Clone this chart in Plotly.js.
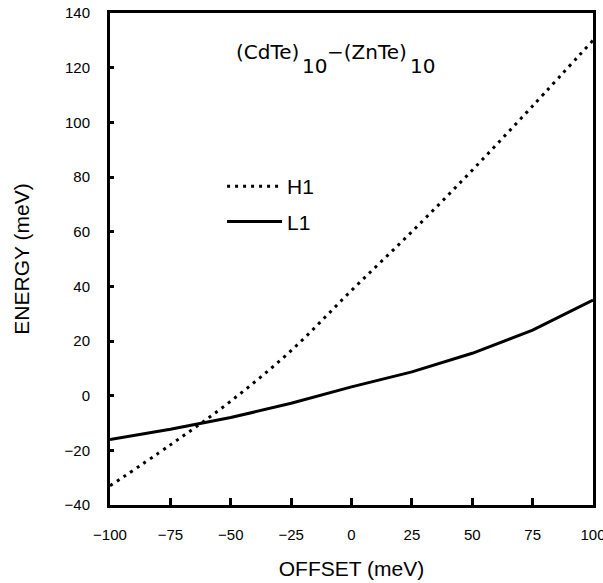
<!DOCTYPE html>
<html>
<head>
<meta charset="utf-8">
<script src="https://cdn.plot.ly/plotly-3.0.1.min.js"></script>
<style>html,body{margin:0;padding:0;background:#fff;}#chart{width:603px;height:583px;}</style>
</head>
<body>
<div id="chart"></div>
<script>
// Offset values (meV)
const offsets = [-100, -75, -50, -25, 0, 25, 50, 75, 100];
// H1 energy (meV), dotted curve
const h1Energy = [-33, -18, -2, 16.5, 38.5, 60, 82.5, 106, 130];
// L1 energy (meV), solid curve
const l1Energy = [-16, -12.3, -8, -2.8, 3.2, 8.7, 15.5, 24, 35];
const xTicks = [-100, -75, -50, -25, 0, 25, 50, 75, 100];
const yTicks = [-40, -20, 0, 20, 40, 60, 80, 100, 120, 140];
const seriesNames = ['H1', 'L1'];
const titleParts = ['(CdTe)', '10', '\u2212(ZnTe)', '10'];

const traces = [
  {x: offsets, y: h1Energy, name: seriesNames[0], mode: 'lines', line: {color: '#000', width: 3, dash: '3px,5px', shape: 'spline'}, legendgroup: 'a'},
  {x: offsets, y: l1Energy, name: seriesNames[1], mode: 'lines', line: {color: '#000', width: 3}, legendgroup: 'b'}
];

const fontFam = '"Liberation Sans", Arial, Helvetica, sans-serif';
const minus = v => v < 0 ? '\u2212' + Math.abs(v) : String(v);

// title pieces: [paper x, paper y]
const titlePos = [[0.256, 0.921], [0.394, 0.893], [0.445, 0.921], [0.617, 0.893]];
const annotations = titleParts.map((t, i) => ({
  x: titlePos[i][0], y: titlePos[i][1], xref: 'paper', yref: 'paper',
  xanchor: 'left', yanchor: 'middle', text: t, showarrow: false,
  font: {size: 20, family: '"DejaVu Sans", sans-serif'}
}));

const layout = {
  width: 603, height: 583,
  margin: {l: 110, r: 10, t: 13, b: 78},
  paper_bgcolor: '#fff', plot_bgcolor: '#fff',
  font: {family: fontFam, color: '#000', size: 15},
  showlegend: true,
  legend: {x: 0.232, y: 0.689, xanchor: 'left', yanchor: 'top', bgcolor: 'rgba(0,0,0,0)',
           font: {size: 21}, traceorder: 'grouped', tracegroupgap: 5, itemwidth: 55},
  xaxis: {
    range: [-100, 100], tickvals: xTicks, ticktext: xTicks.map(minus),
    showline: true, linewidth: 3, linecolor: '#000', mirror: true,
    ticks: 'inside', ticklen: 7, tickwidth: 3, tickcolor: '#000',
    showgrid: false, zeroline: false, ticklabelstandoff: 14, ticklabeloverflow: 'allow',
    title: {text: 'OFFSET (meV)', font: {size: 21}, standoff: 20}
  },
  yaxis: {
    range: [-40, 140], tickvals: yTicks, ticktext: yTicks.map(minus),
    showline: true, linewidth: 3, linecolor: '#000', mirror: true,
    ticks: 'inside', ticklen: 4, tickwidth: 3, tickcolor: '#000',
    showgrid: false, zeroline: false, ticklabelstandoff: 14,
    title: {text: 'ENERGY (meV)', font: {size: 21}, standoff: 30}
  },
  annotations: annotations
};
Plotly.newPlot('chart', traces, layout, {displayModeBar: false, staticPlot: true});
</script>
</body>
</html>
